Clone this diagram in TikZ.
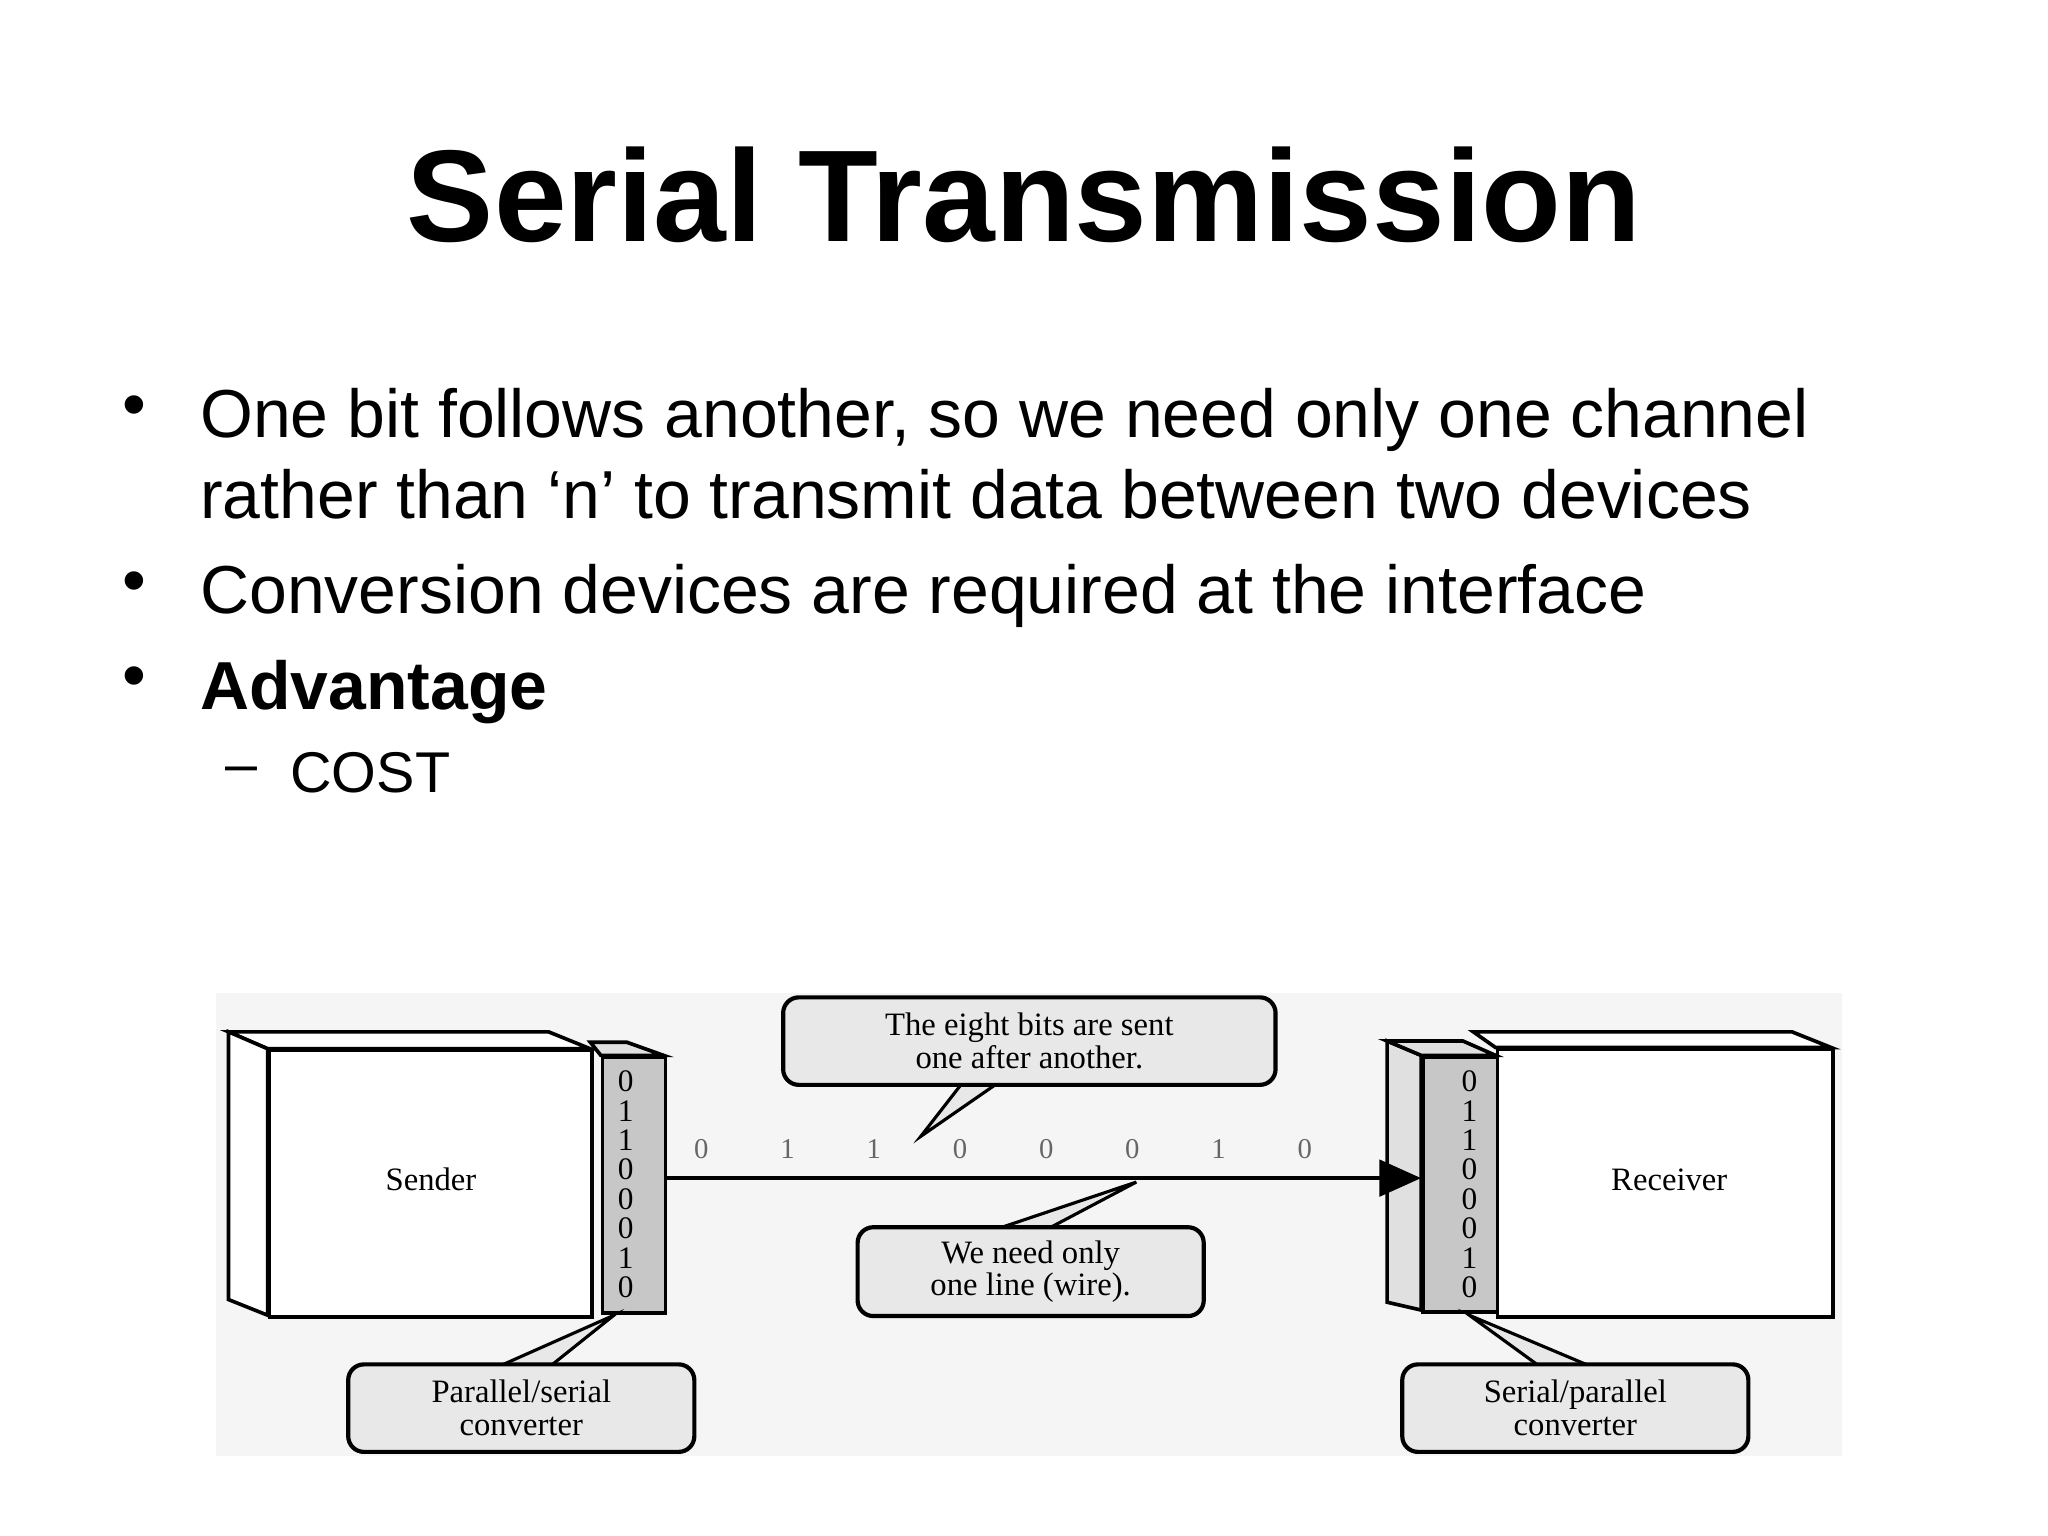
\documentclass[tikz,border=0pt]{standalone}
\usepackage{fontspec}
\setmainfont{Liberation Sans}
\newfontfamily\dserif{Liberation Serif}
\usetikzlibrary{arrows.meta}
\begin{document}
\begin{tikzpicture}[x=0.5pt,y=-0.5pt,
  body/.style={anchor=base west,font=\fontsize{26}{30}\selectfont,inner sep=0},
  callout/.style={draw,line width=1.6pt,rounded corners=6pt,fill=black!9,font=\dserif\fontsize{12.5}{12.5}\selectfont,align=center,inner sep=0},
  tail/.style={draw,line width=1.2pt,fill=black!9},
  face/.style={draw,line width=1.4pt,fill=white},
  conv/.style={draw,line width=1.4pt,fill=black!22},
  bitf/.style={font=\dserif\fontsize{11}{11}\selectfont,text=black!60}]
\useasboundingbox (0,0) rectangle (1568,1176);
\fill[white] (0,0) rectangle (1568,1176);
\node[font=\bfseries\fontsize{50}{56}\selectfont,anchor=base] (title) at (784,185) {Serial Transmission};
\node[anchor=base,font=\fontsize{26}{30}\selectfont,inner sep=0] (b1) at (103,327) {\textbullet};
\node[body] (t1) at (153,335) {One bit follows another, so we need only one channel};
\node[body] (t1b) at (153,397) {rather than ‘n’ to transmit data between two devices};
\node[anchor=base,font=\fontsize{26}{30}\selectfont,inner sep=0] (b2) at (103,462) {\textbullet};
\node[body] (t2) at (153,470) {Conversion devices are required at the interface};
\node[anchor=base,font=\fontsize{26}{30}\selectfont,inner sep=0] (b3) at (103,535) {\textbullet};
\node[body,font=\bfseries\fontsize{26}{30}\selectfont] (t3) at (153,543) {Advantage};
\node[anchor=base west,font=\fontsize{22}{26}\selectfont,inner sep=0] (d1) at (172,600) {–};
\node[anchor=base west,font=\fontsize{22}{26}\selectfont,inner sep=0] (t4) at (222,607) {COST};
% diagram background
\fill[black!4] (165,760) rectangle (1410,1115);
% sender
\draw[face] (175,790) -- (420,790) -- (452,803) -- (205,803) -- cycle;
\draw[face] (175,790) -- (205,803) -- (205,1007) -- (175,995) -- cycle;
\node[face,minimum width=247pt/2,minimum height=204pt/2,anchor=north west,inner sep=0] (sender) at (205,803) {};
\node[font=\dserif\fontsize{12.5}{12.5}\selectfont] at (330,903) {Sender};
\draw[conv,fill=black!12] (452,798) -- (480,798) -- (508,808) -- (460,808) -- cycle;
\node[conv,minimum width=48pt/2,minimum height=196pt/2,anchor=north west,inner sep=0] (pconv) at (460,808) {};
% receiver
\draw[face] (1128,790) -- (1372,790) -- (1402,802) -- (1145,802) -- cycle;
\node[face,minimum width=257pt/2,minimum height=205pt/2,anchor=north west,inner sep=0] (receiver) at (1145,802) {};
\node[font=\dserif\fontsize{12.5}{12.5}\selectfont] at (1278,903) {Receiver};
\draw[conv,fill=black!12] (1062,797) -- (1088,808) -- (1088,1003) -- (1062,997) -- cycle;
\draw[conv,fill=black!12] (1062,797) -- (1120,797) -- (1145,808) -- (1088,808) -- cycle;
\node[conv,minimum width=57pt/2,minimum height=195pt/2,anchor=north west,inner sep=0] (sconv) at (1088,808) {};
% column bits
\foreach \b [count=\i from 0] in {0,1,1,0,0,0,1,0} {
  \node[font=\dserif\fontsize{12}{12}\selectfont] at (479,828+22.5*\i) {\b};
  \node[font=\dserif\fontsize{12}{12}\selectfont] at (1125,828+22.5*\i) {\b};
}
% line
\draw[line width=1.4pt,-{Triangle[length=16pt,width=14pt]}] (pconv.east|-0,902) -- (sconv.west|-0,902);
\foreach \b [count=\i from 0] in {0,1,1,0,0,0,1,0}
  \node[bitf] at (537+66*\i,880) {\b};
% callouts
\coordinate (tip1) at (705,870);
\draw[tail] (740,825) -- (tip1) -- (770,825) -- cycle;
\node[callout,minimum width=377pt/2,minimum height=67pt/2,anchor=north west] (c1) at (598,762) {The eight bits are sent\\one after another.};
\coordinate (tip2) at (870,905);
\draw[tail] (760,942) -- (tip2) -- (800,942) -- cycle;
\node[callout,minimum width=265pt/2,minimum height=68pt/2,anchor=north west] (c2) at (655,938) {We need only\\one line (wire).};
\coordinate (tip3) at (470,1007);
\draw[tail] (380,1047) -- (tip3) -- (420,1047) -- cycle;
\node[callout,minimum width=265pt/2,minimum height=67pt/2,anchor=north west] (c3) at (265,1043) {Parallel/serial\\converter};
\coordinate (tip4) at (1125,1007);
\draw[tail] (1180,1047) -- (tip4) -- (1220,1047) -- cycle;
\node[callout,minimum width=265pt/2,minimum height=67pt/2,anchor=north west] (c4) at (1072,1043) {Serial/parallel\\converter};
\end{tikzpicture}
\end{document}
